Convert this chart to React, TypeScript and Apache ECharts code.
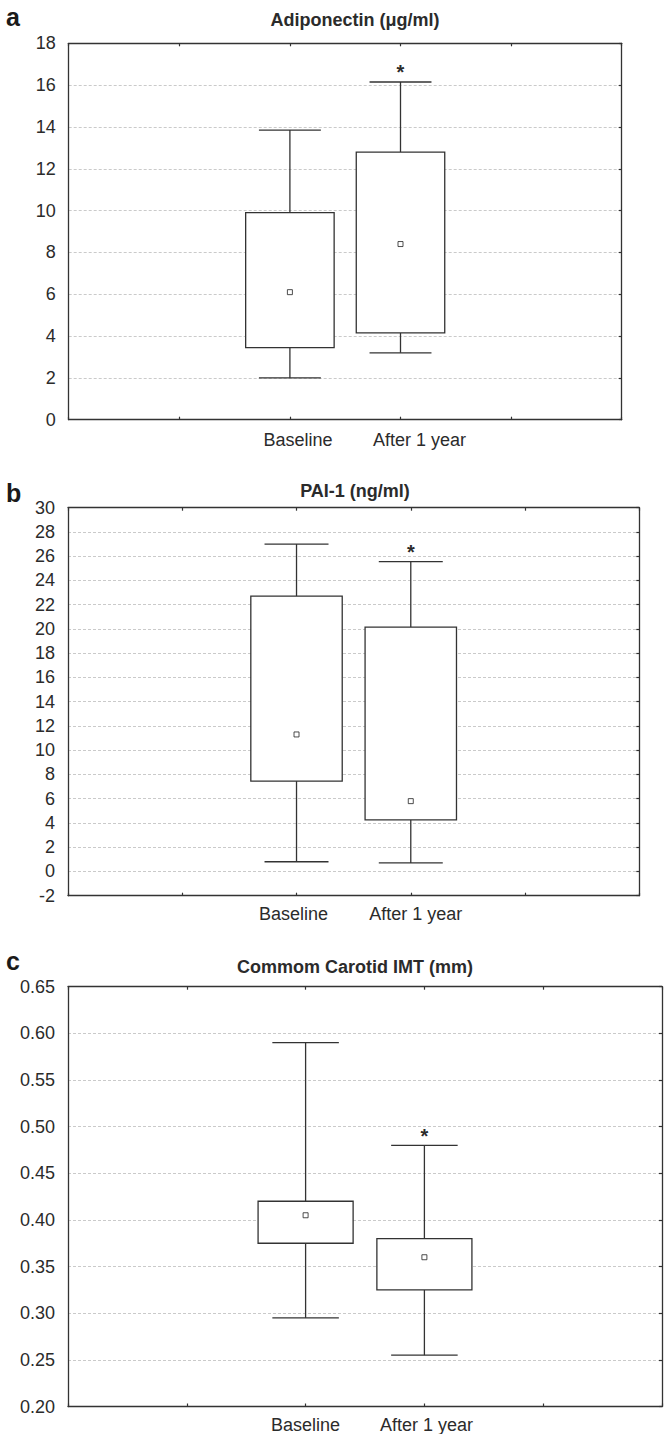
import React, { useEffect, useRef } from "react";
import * as echarts from "echarts";

// ---- data ----
const categories = ["Baseline", "After 1 year"];
const categoryPositions = [2, 3];
const xAxisMax = 5;

const adiponectinLow = [2.0, 3.2];
const adiponectinQ1 = [3.45, 4.15];
const adiponectinMedian = [6.1, 8.4];
const adiponectinQ3 = [9.9, 12.8];
const adiponectinHigh = [13.85, 16.15];
const adiponectinMarks = ["", "*"];

const pai1Low = [0.8, 0.7];
const pai1Q1 = [7.45, 4.25];
const pai1Median = [11.3, 5.8];
const pai1Q3 = [22.7, 20.15];
const pai1High = [27.0, 25.55];
const pai1Marks = ["", "*"];

const imtLow = [0.295, 0.255];
const imtQ1 = [0.375, 0.325];
const imtMedian = [0.405, 0.36];
const imtQ3 = [0.42, 0.38];
const imtHigh = [0.59, 0.48];
const imtMarks = ["", "*"];

const panels = [
  {
    letter: "a",
    title: "Adiponectin (μg/ml)",
    yMin: 0, yMax: 18, yInterval: 2, decimals: 0,
    low: adiponectinLow, q1: adiponectinQ1, median: adiponectinMedian, q3: adiponectinQ3, high: adiponectinHigh, marks: adiponectinMarks,
    grid: { left: 68.7, top: 43.3, width: 553, height: 376.4 },
    titleTop: 10.5, letterTop: 4.8, labelMargin: 11, labelShift: [8, 19],
  },
  {
    letter: "b",
    title: "PAI-1 (ng/ml)",
    yMin: -2, yMax: 30, yInterval: 2, decimals: 0,
    low: pai1Low, q1: pai1Q1, median: pai1Median, q3: pai1Q3, high: pai1High, marks: pai1Marks,
    grid: { left: 68, top: 507.7, width: 571.3, height: 388 },
    titleTop: 481.5, letterTop: 480.5, labelMargin: 9, labelShift: [-3, 5],
  },
  {
    letter: "c",
    title: "Commom Carotid IMT (mm)",
    yMin: 0.2, yMax: 0.65, yInterval: 0.05, decimals: 2,
    low: imtLow, q1: imtQ1, median: imtMedian, q3: imtQ3, high: imtHigh, marks: imtMarks,
    grid: { left: 68, top: 986.7, width: 599.5, height: 420.6 },
    titleTop: 958, letterTop: 948, labelMargin: 9.5, labelShift: [0, 2],
  },
];

const FONT = "'Liberation Sans', Arial, Helvetica, sans-serif";
const INK = "#2b2b2b";
const LINE = "#333333";

function buildOption() {
  const grids: any[] = [];
  const xAxes: any[] = [];
  const yAxes: any[] = [];
  const series: any[] = [];
  const titles: any[] = [];

  panels.forEach((p, i) => {
    grids.push({ ...p.grid, show: false, containLabel: false });

    const rich: any = {};
    p.labelShift.forEach((s, k) => {
      rich["l" + k] = {
        fontSize: 18,
        fontFamily: FONT,
        color: INK,
        padding: s >= 0 ? [0, 0, 0, 2 * s] : [0, -2 * s, 0, 0],
      };
    });

    const axisLine = { show: true, onZero: false, lineStyle: { color: LINE, width: 1.3 } };
    const tick = { show: true, inside: true, length: 3, lineStyle: { color: LINE, width: 1.2 } };

    xAxes.push({
      type: "value", gridIndex: i, position: "bottom",
      min: 0, max: xAxisMax, interval: 1,
      axisLine, axisTick: tick,
      splitLine: { show: false },
      axisLabel: {
        show: true, margin: p.labelMargin, fontSize: 18, fontFamily: FONT, color: INK,
        formatter: (v: number) => {
          const k = categoryPositions.indexOf(Math.round(v));
          return k >= 0 ? `{l${k}|${categories[k]}}` : "";
        },
        rich,
      },
    });
    xAxes.push({
      type: "value", gridIndex: i, position: "top",
      min: 0, max: xAxisMax, interval: 1,
      axisLine, axisTick: tick,
      splitLine: { show: false }, axisLabel: { show: false },
    });
    yAxes.push({
      type: "value", gridIndex: i, position: "left",
      min: p.yMin, max: p.yMax, interval: p.yInterval,
      axisLine, axisTick: { show: false },
      axisLabel: {
        margin: 13, fontSize: 18, fontFamily: FONT, color: INK,
        formatter: (v: number) => v.toFixed(p.decimals),
      },
      splitLine: {
        show: true, showMinLine: false, showMaxLine: false,
        lineStyle: { color: "#c4c4c4", width: 0.9, type: [3, 2] },
      },
    });
    yAxes.push({
      type: "value", gridIndex: i, position: "right",
      min: p.yMin, max: p.yMax, interval: p.yInterval,
      axisLine, axisTick: tick,
      axisLabel: { show: false }, splitLine: { show: false },
    });

    const boxData = categoryPositions.map((x, k) => [x, p.low[k], p.q1[k], p.median[k], p.q3[k], p.high[k]]);
    const marks = p.marks;
    series.push({
      type: "custom",
      xAxisIndex: 2 * i,
      yAxisIndex: 2 * i,
      encode: { x: 0, y: [1, 2, 3, 4, 5] },
      data: boxData,
      silent: true,
      z: 3,
      renderItem: (params: any, api: any) => {
        const x = api.value(0);
        const unit = api.size([1, 0])[0];
        const bw = unit * 0.4;
        const cw = unit * 0.28;
        const [cx, yLow] = api.coord([x, api.value(1)]);
        const yQ1 = api.coord([x, api.value(2)])[1];
        const yQ3 = api.coord([x, api.value(4)])[1];
        const yHigh = api.coord([x, api.value(5)])[1];
        const ls = { stroke: LINE, lineWidth: 1.3, fill: null };
        const children: any[] = [
          { type: "line", shape: { x1: cx, y1: yHigh, x2: cx, y2: yQ3 }, style: ls },
          { type: "line", shape: { x1: cx, y1: yQ1, x2: cx, y2: yLow }, style: ls },
          { type: "line", shape: { x1: cx - cw, y1: yHigh, x2: cx + cw, y2: yHigh }, style: ls },
          { type: "line", shape: { x1: cx - cw, y1: yLow, x2: cx + cw, y2: yLow }, style: ls },
          {
            type: "rect",
            shape: { x: cx - bw, y: yQ3, width: 2 * bw, height: yQ1 - yQ3 },
            style: { stroke: LINE, lineWidth: 1.3, fill: "#ffffff" },
          },
        ];
        const m = marks[params.dataIndex];
        if (m) {
          children.push({
            type: "text",
            style: {
              text: m, x: cx, y: yHigh - 9.5, align: "center", verticalAlign: "middle",
              fontSize: 20, fontWeight: "bold", fontFamily: FONT, fill: INK,
            },
          });
        }
        return { type: "group", children };
      },
    });
    series.push({
      type: "scatter",
      xAxisIndex: 2 * i,
      yAxisIndex: 2 * i,
      data: categoryPositions.map((x, k) => [x, p.median[k]]),
      symbol: "rect",
      symbolSize: 5,
      silent: true,
      z: 5,
      itemStyle: { color: "#ffffff", borderColor: "#222222", borderWidth: 1 },
    });

    titles.push({
      text: p.letter, left: 6, top: p.letterTop, padding: 0,
      textStyle: { fontSize: 25, fontWeight: "bold", fontFamily: FONT, color: "#1a1a1a" },
    });
    titles.push({
      text: p.title, left: 355, top: p.titleTop, padding: 0, textAlign: "center",
      textStyle: { fontSize: 18, fontWeight: "bold", fontFamily: FONT, color: INK },
    });
  });

  return {
    animation: false,
    backgroundColor: "#ffffff",
    title: titles,
    grid: grids,
    xAxis: xAxes,
    yAxis: yAxes,
    series,
  };
}

export default function App() {
  const ref = useRef<HTMLDivElement>(null);
  useEffect(() => {
    document.body.style.margin = "0";
    if (!ref.current) return;
    const chart = echarts.init(ref.current, null, { renderer: "svg" });
    chart.setOption(buildOption());
    return () => chart.dispose();
  }, []);
  return (
    <div
      ref={ref}
      style={{ position: "absolute", left: 0, top: 0, width: 665, height: 1434, background: "#fff" }}
    />
  );
}
